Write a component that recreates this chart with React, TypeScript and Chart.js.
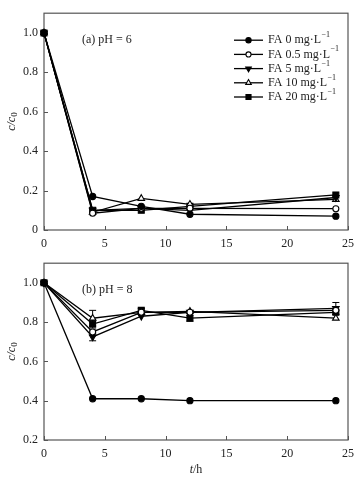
import React, { useEffect, useRef } from "react";
import { Chart, registerables } from "chart.js";

Chart.register(...registerables);

// ---------- data ----------
const hours = [0, 4, 8, 12, 24];
const seriesLabels = ["FA 0 mg·L", "FA 0.5 mg·L", "FA 5 mg·L", "FA 10 mg·L", "FA 20 mg·L"];

// (a) pH = 6
const ph6Fa0 = [1.0, 0.17, 0.12, 0.08, 0.07];
const ph6Fa05 = [1.0, 0.085, 0.11, 0.11, 0.108];
const ph6Fa5 = [1.0, 0.1, 0.11, 0.1, 0.165];
const ph6Fa10 = [1.0, 0.09, 0.16, 0.13, 0.155];
const ph6Fa20 = [1.0, 0.1, 0.1, 0.12, 0.178];

// (b) pH = 8
const ph8Fa0 = [1.0, 0.41, 0.41, 0.4, 0.4];
const ph8Fa05 = [1.0, 0.75, 0.85, 0.85, 0.86];
const ph8Fa5 = [1.0, 0.725, 0.83, 0.85, 0.87];
const ph8Fa10 = [1.0, 0.82, 0.85, 0.855, 0.82];
const ph8Fa20 = [1.0, 0.79, 0.86, 0.82, 0.85];

// error bar half-widths for pH = 8
const ph8Err0 = [0, 0, 0, 0, 0];
const ph8Err05 = [0, 0.01, 0, 0, 0];
const ph8Err5 = [0, 0.02, 0, 0, 0.03];
const ph8Err10 = [0, 0.04, 0, 0, 0];
const ph8Err20 = [0, 0.02, 0.01, 0.015, 0.01];

const xTicks = [0, 5, 10, 15, 20, 25];

// ---------- styles ----------
const SERIF = "'Liberation Serif', 'Times New Roman', serif";
const AXIS_COLOR = "#555";
const TEXT_COLOR = "#222";
const pointStyles = ["circle", "circle", "triangle", "triangle", "rect"];
const pointRotations = [0, 0, 180, 0, 0];
const pointFills = ["#000", "#fff", "#000", "#fff", "#000"];
const pointRadii = [3.1, 3.0, 3.8, 3.8, 4.2];

function drawMarker(ctx: CanvasRenderingContext2D, style: string, rot: number, r: number, x: number, y: number, fill: string) {
  ctx.save();
  ctx.beginPath();
  if (style === "circle") {
    ctx.arc(x, y, r, 0, Math.PI * 2);
  } else if (style === "triangle") {
    let rad = (rot * Math.PI) / 180;
    ctx.moveTo(x + Math.sin(rad) * r, y - Math.cos(rad) * r);
    rad += (2 * Math.PI) / 3;
    ctx.lineTo(x + Math.sin(rad) * r, y - Math.cos(rad) * r);
    rad += (2 * Math.PI) / 3;
    ctx.lineTo(x + Math.sin(rad) * r, y - Math.cos(rad) * r);
    ctx.closePath();
  } else {
    const s = r * Math.SQRT1_2;
    ctx.rect(x - s, y - s, 2 * s, 2 * s);
  }
  ctx.fillStyle = fill;
  ctx.fill();
  ctx.lineWidth = 1.1;
  ctx.strokeStyle = "#000";
  ctx.stroke();
  ctx.restore();
}

function makeDatasets(series: number[][]) {
  return series.map((vals, i) => ({
    label: seriesLabels[i],
    data: hours.map((h, j) => ({ x: h, y: vals[j] })),
    borderColor: "#000",
    borderWidth: 1.3,
    backgroundColor: pointFills[i],
    pointBackgroundColor: pointFills[i],
    pointBorderColor: "#000",
    pointBorderWidth: 1.1,
    pointStyle: pointStyles[i],
    pointRotation: pointRotations[i],
    pointRadius: pointRadii[i],
    tension: 0,
    fill: false,
    clip: false as any,
  }));
}

function yTitle(ctx: CanvasRenderingContext2D, cx: number, cy: number) {
  ctx.save();
  ctx.translate(cx, cy);
  ctx.rotate(-Math.PI / 2);
  ctx.fillStyle = TEXT_COLOR;
  ctx.textBaseline = "middle";
  ctx.textAlign = "left";
  ctx.font = `italic 12px ${SERIF}`;
  const main = "c/c";
  const w = ctx.measureText(main).width;
  ctx.font = `9px ${SERIF}`;
  const w2 = ctx.measureText("0").width;
  const start = -(w + w2) / 2;
  ctx.font = `italic 12px ${SERIF}`;
  ctx.fillText(main, start, 0);
  ctx.font = `9px ${SERIF}`;
  ctx.fillText("0", start + w, 3);
  ctx.restore();
}

function makePlugin(opts: {
  tag: string;
  errors?: number[][];
  legend?: boolean;
  xTitle?: boolean;
}) {
  return {
    id: "custom-" + opts.tag,
    beforeDatasetsDraw(chart: any) {
      const ctx: CanvasRenderingContext2D = chart.ctx;
      const a = chart.chartArea;
      const xs = chart.scales.x;
      const ys = chart.scales.y;
      ctx.save();
      // frame
      ctx.strokeStyle = AXIS_COLOR;
      ctx.lineWidth = 1.2;
      ctx.strokeRect(a.left, a.top, a.right - a.left, a.bottom - a.top);
      // inner ticks
      ctx.lineWidth = 1;
      ctx.beginPath();
      xTicks.forEach((t) => {
        const px = Math.round(xs.getPixelForValue(t)) + 0.5;
        ctx.moveTo(px, a.bottom);
        ctx.lineTo(px, a.bottom - 4);
      });
      ys.ticks.forEach((t: any) => {
        const py = Math.round(ys.getPixelForValue(t.value)) + 0.5;
        ctx.moveTo(a.left, py);
        ctx.lineTo(a.left + 4, py);
      });
      ctx.stroke();
      // error bars
      if (opts.errors) {
        ctx.strokeStyle = "#000";
        ctx.lineWidth = 1;
        chart.data.datasets.forEach((ds: any, i: number) => {
          const errs = opts.errors![i];
          ds.data.forEach((p: any, j: number) => {
            const e = errs[j];
            if (!e) return;
            const px = xs.getPixelForValue(p.x);
            const y1 = ys.getPixelForValue(p.y + e);
            const y2 = ys.getPixelForValue(p.y - e);
            ctx.beginPath();
            ctx.moveTo(px, y1);
            ctx.lineTo(px, y2);
            ctx.moveTo(px - 3.5, y1);
            ctx.lineTo(px + 3.5, y1);
            ctx.moveTo(px - 3.5, y2);
            ctx.lineTo(px + 3.5, y2);
            ctx.stroke();
          });
        });
      }
      ctx.restore();
    },
    afterDraw(chart: any) {
      const ctx: CanvasRenderingContext2D = chart.ctx;
      const a = chart.chartArea;
      ctx.save();
      // panel label
      ctx.fillStyle = TEXT_COLOR;
      ctx.font = `12px ${SERIF}`;
      ctx.textBaseline = "middle";
      ctx.textAlign = "left";
      ctx.fillText(opts.tag, a.left + 38, a.top + 27);
      // y title
      yTitle(ctx, 12, (a.top + a.bottom) / 2);
      // x title
      if (opts.xTitle) {
        ctx.font = `italic 12px ${SERIF}`;
        const w1 = ctx.measureText("t").width;
        ctx.font = `12px ${SERIF}`;
        const w2 = ctx.measureText("/h").width;
        const cx = (a.left + a.right) / 2;
        const y = a.bottom + 30;
        const start = cx - (w1 + w2) / 2;
        ctx.font = `italic 12px ${SERIF}`;
        ctx.fillText("t", start, y);
        ctx.font = `12px ${SERIF}`;
        ctx.fillText("/h", start + w1, y);
      }
      // legend
      if (opts.legend) {
        chart.data.datasets.forEach((ds: any, i: number) => {
          const y = a.top + 27 + i * 14.2;
          ctx.strokeStyle = "#000";
          ctx.lineWidth = 1.3;
          ctx.beginPath();
          ctx.moveTo(234, y);
          ctx.lineTo(263, y);
          ctx.stroke();
          drawMarker(ctx, pointStyles[i], pointRotations[i], pointRadii[i] * 0.85, 248.5, y, pointFills[i]);
          ctx.fillStyle = TEXT_COLOR;
          ctx.font = `12px ${SERIF}`;
          ctx.textBaseline = "middle";
          ctx.fillText(ds.label, 268, y);
          const w = ctx.measureText(ds.label).width;
          ctx.font = `8px ${SERIF}`;
          ctx.fillText("\u22121", 268 + w + 0.5, y - 5);
        });
      }
      ctx.restore();
    },
  };
}

function makeConfig(series: number[][], yMin: number, yMax: number, axisH: number, padTop: number, plugin: any) {
  return {
    type: "line" as const,
    data: { datasets: makeDatasets(series) },
    options: {
      responsive: false,
      animation: false as const,
      devicePixelRatio: 1,
      layout: { padding: { left: 0, right: 9, top: padTop, bottom: 0 } },
      plugins: { legend: { display: false }, tooltip: { enabled: false } },
      scales: {
        x: {
          type: "linear" as const,
          min: 0,
          max: 25,
          ticks: {
            stepSize: 5,
            includeBounds: false,
            padding: 7,
            maxRotation: 0,
            color: TEXT_COLOR,
            font: { family: SERIF, size: 12 },
          },
          grid: { display: false, drawTicks: false },
          border: { display: false },
          afterFit: (s: any) => {
            s.height = axisH;
          },
        },
        y: {
          type: "linear" as const,
          min: yMin,
          max: yMax,
          ticks: {
            stepSize: 0.2,
            includeBounds: false,
            padding: 6,
            color: TEXT_COLOR,
            font: { family: SERIF, size: 12 },
            callback: (v: any) => (Math.abs(v) < 1e-9 ? "0" : Number(v).toFixed(1)),
          },
          grid: { display: false, drawTicks: false },
          border: { display: false },
          afterFit: (s: any) => {
            s.width = 44;
          },
        },
      },
    },
    plugins: [plugin],
  };
}

export default function App() {
  const topRef = useRef<HTMLCanvasElement>(null);
  const botRef = useRef<HTMLCanvasElement>(null);

  useEffect(() => {
    const top = new Chart(
      topRef.current!,
      makeConfig(
        [ph6Fa0, ph6Fa05, ph6Fa5, ph6Fa10, ph6Fa20],
        0,
        1.1,
        20,
        8,
        makePlugin({ tag: "(a) pH = 6", legend: true })
      ) as any
    );
    const bot = new Chart(
      botRef.current!,
      makeConfig(
        [ph8Fa0, ph8Fa05, ph8Fa5, ph8Fa10, ph8Fa20],
        0.2,
        1.1,
        42,
        12,
        makePlugin({
          tag: "(b) pH = 8",
          errors: [ph8Err0, ph8Err05, ph8Err5, ph8Err10, ph8Err20],
          xTitle: true,
        })
      ) as any
    );
    return () => {
      top.destroy();
      bot.destroy();
    };
  }, []);

  return (
    <div style={{ position: "absolute", left: 0, top: 0, width: 361, height: 482, background: "#fff" }}>
      <canvas ref={topRef} width={361} height={250} style={{ position: "absolute", left: 0, top: 0, width: 361, height: 250 }} />
      <canvas ref={botRef} width={361} height={232} style={{ position: "absolute", left: 0, top: 250, width: 361, height: 232 }} />
    </div>
  );
}
